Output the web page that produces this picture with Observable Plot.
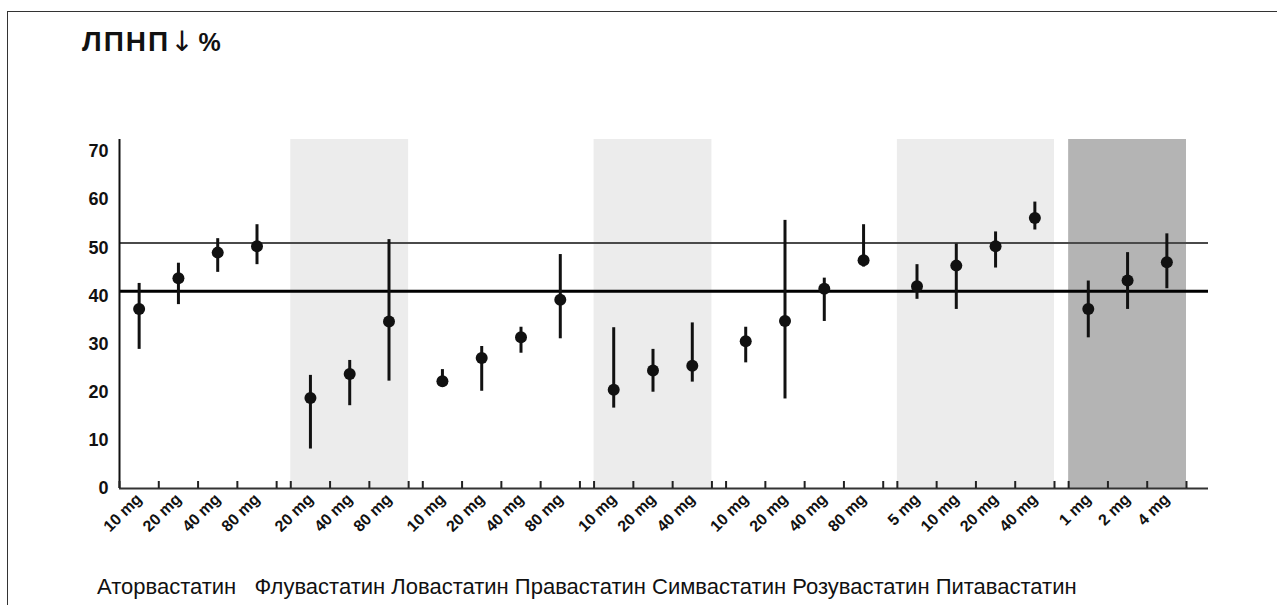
<!DOCTYPE html>
<html><head><meta charset="utf-8">
<script src="https://cdn.jsdelivr.net/npm/d3@7"></script>
<script src="https://cdn.jsdelivr.net/npm/@observablehq/plot@0.6"></script>
<style>
html,body{margin:0;padding:0;background:#fff;}
#page{position:relative;width:1277px;height:605px;overflow:hidden;font-family:"Liberation Sans",Arial,sans-serif;color:#111;}
#frame{position:absolute;left:7px;top:11px;width:1400px;height:700px;border-left:1.5px solid #333;border-top:1.5px solid #333;}
#title{position:absolute;left:82px;top:28px;font-size:28px;line-height:28px;font-weight:bold;white-space:pre;}
#title .main{letter-spacing:2px;}
#title .arr{font-family:"DejaVu Sans",sans-serif;font-weight:normal;font-size:28px;margin:0 5px 0 0;}
#title .unit{font-size:25px;}
#chart{position:absolute;left:0;top:0;}
#caption{position:absolute;left:97px;top:576px;font-size:22px;line-height:22px;white-space:pre;}
</style></head><body>
<div id="page"><div id="frame"></div><div id="chart"></div><div id="title"></div><div id="caption"></div></div>
<script>
// ---- data ----
const titleMain = "ЛПНП", titleArrow = "↓", titleUnit = "%";
const drugs = ["Аторвастатин","Флувастатин","Ловастатин","Правастатин","Симвастатин","Розувастатин","Питавастатин"];
const doses = [
  ["10 mg","20 mg","40 mg","80 mg"],
  ["20 mg","40 mg","80 mg"],
  ["10 mg","20 mg","40 mg","80 mg"],
  ["10 mg","20 mg","40 mg"],
  ["10 mg","20 mg","40 mg","80 mg"],
  ["5 mg","10 mg","20 mg","40 mg"],
  ["1 mg","2 mg","4 mg"]
];
const means = [37.3,43.7,49.0,50.3, 18.8,23.8,34.7, 22.3,27.1,31.4,39.2, 20.5,24.5,25.5, 30.6,34.8,41.5,47.4, 42.0,46.3,50.3,56.2, 37.3,43.2,47.0];
const highs = [42.6,46.8,51.9,54.8, 23.5,26.6,51.7, 24.7,29.5,33.5,48.6, 33.4,28.9,34.4, 33.5,55.7,43.7,54.8, 46.5,50.8,53.3,59.5, 43.1,49.0,52.9];
const lows  = [28.9,38.2,44.9,46.5,  8.2,17.2,22.3, 21.0,20.2,28.1,31.1, 16.7,20.0,22.1, 26.1,18.6,34.7,46.0, 39.3,37.2,45.8,53.7, 31.3,37.2,41.5];
const refLines = [51, 41];
const yTicks = [0,10,20,30,40,50,60,70];
const yTop = 72.5;

// ---- layout of dose bands ----
const gap = 0.36, tail = 0.56;
const rows = [], groups = [];
let cursor = 0, k = 0;
drugs.forEach((drug, g) => {
  const start = cursor;
  doses[g].forEach(dose => {
    rows.push({drug, dose, x: cursor + 0.5, mean: means[k], low: lows[k], high: highs[k]});
    cursor += 1; k++;
  });
  groups.push({drug, g, x1: start, x2: cursor});
  cursor += gap;
});
const xMax = cursor - gap + tail;
const edges = groups.flatMap(d => d3.range(d.x1, d.x2 + 0.001, 1));
const labelAt = new Map(rows.map(d => [d.x, d.dose]));
const shade = d => d.g === groups.length - 1 ? "#b4b4b4" : (d.g % 2 ? "#ececec" : null);

const W = 1277, H = 545, mT = 139, mB = 57, mL = 119, mR = 69;
const plotH = H - mT - mB;

const chart = Plot.plot({
  width: W, height: H, marginTop: mT, marginBottom: mB, marginLeft: mL, marginRight: mR,
  style: {background: "transparent", fontFamily: "'Liberation Sans', Arial, sans-serif", color: "#111", overflow: "visible"},
  x: {domain: [0, xMax], axis: null},
  y: {domain: [0, yTop], axis: null},
  marks: [
    Plot.rect(groups.filter(shade), {x1: "x1", x2: "x2", y1: 0, y2: yTop, fill: shade}),
    Plot.ruleY(refLines.slice(0, 1), {stroke: "#4a4a4a", strokeWidth: 2}),
    Plot.ruleY(refLines.slice(1), {stroke: "#000", strokeWidth: 3}),
    Plot.ruleY([0], {stroke: "#333", strokeWidth: 2}),
    Plot.ruleX([0], {y1: 0, y2: yTop, stroke: "#111", strokeWidth: 2}),
    Plot.tickX(edges, {x: d => d, stroke: "#222", strokeWidth: 2, insetTop: plotH - 7}),
    Plot.axisY(yTicks, {tickSize: 0, tickPadding: 11, fontSize: 18, fontWeight: "bold", label: null}),
    Plot.axisX(rows.map(d => d.x), {tickSize: 0, tickPadding: 8, tickRotate: -45, fontSize: 16, fontWeight: "bold",
      tickFormat: v => labelAt.get(v), label: null}),
    Plot.ruleX(rows, {x: "x", y1: "low", y2: "high", stroke: "#111", strokeWidth: 3}),
    Plot.dot(rows, {x: "x", y: "mean", r: 6, fill: "#111"})
  ]
});
document.getElementById("chart").appendChild(chart);
const t = document.getElementById("title");
const main = document.createElement("span"); main.className = "main"; main.textContent = titleMain;
const arr = document.createElement("span"); arr.className = "arr"; arr.textContent = titleArrow;
const unit = document.createElement("span"); unit.className = "unit"; unit.textContent = titleUnit;
t.append(main, arr, unit);
document.getElementById("caption").textContent = drugs[0] + "   " + drugs.slice(1).join(" ");
</script>
</body></html>
